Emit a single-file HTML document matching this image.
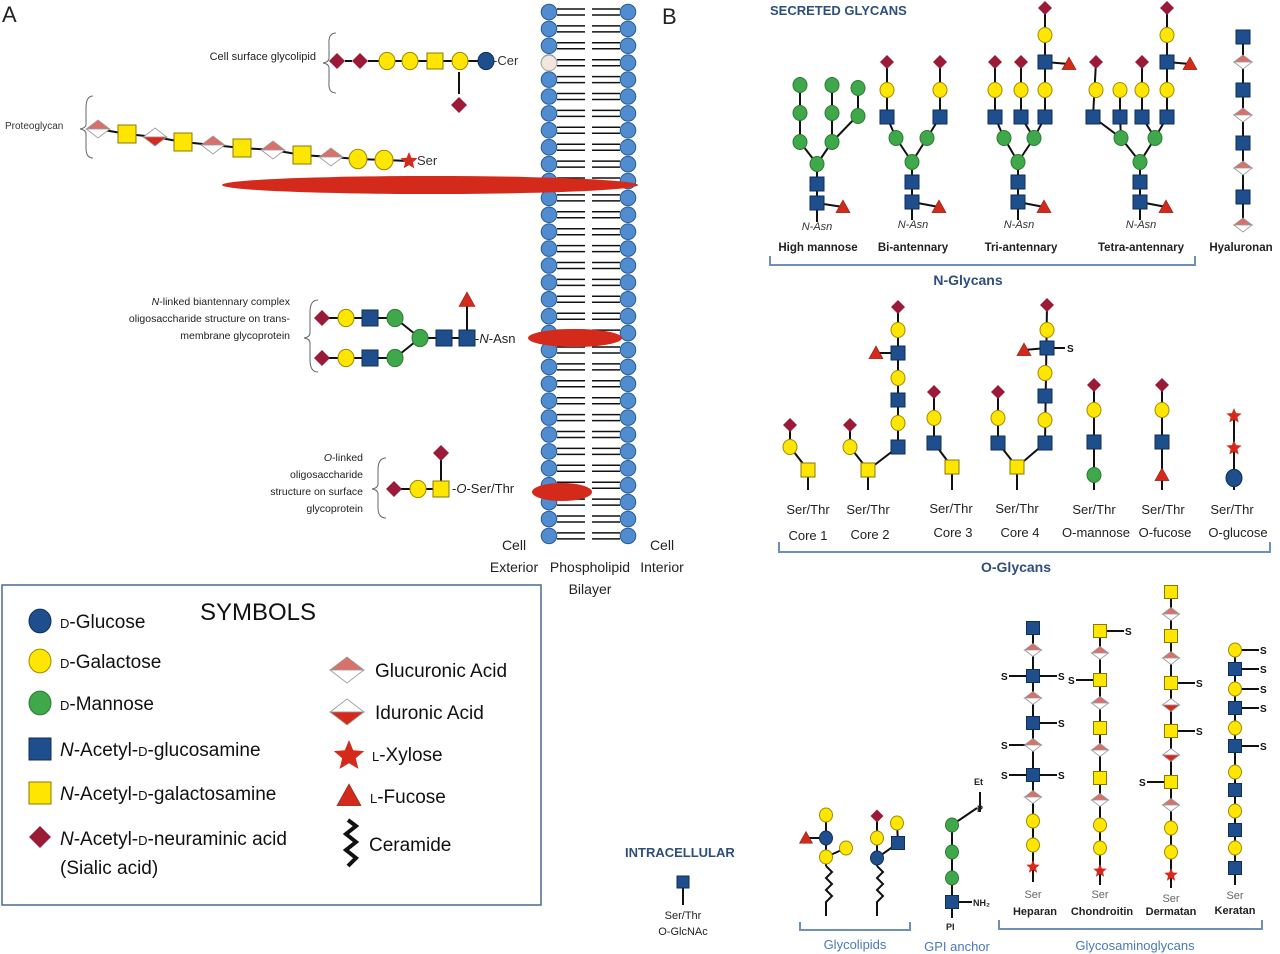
<!DOCTYPE html>
<html><head><meta charset="utf-8">
<style>
body{margin:0;background:#fff;}
svg{display:block;font-family:"Liberation Sans",sans-serif;}
.sc{font-variant:small-caps;}
</style></head>
<body>
<svg id="fig" width="1280" height="954" viewBox="0 0 1280 954" xmlns="http://www.w3.org/2000/svg">
<g id="membrane"></g>
<g id="links" stroke="#111" stroke-width="2" fill="none"></g>
<g id="syms"></g>

<text x="2" y="22" font-size="22" fill="#222">A</text>
<text x="662" y="24" font-size="22" fill="#222">B</text>

<text x="316" y="60" font-size="11" text-anchor="end" fill="#222">Cell surface glycolipid</text>
<path d="M336 33 Q328 33 329 45 L329 58 Q329 62 323 63 Q329 64 329 68 L329 82 Q328 93 336 93" stroke="#666" fill="none"/>
<text x="493" y="65" font-size="13" fill="#333">-Cer</text>
<text x="5" y="129" font-size="10" fill="#333">Proteoglycan</text>
<path d="M93 96 Q86 96 86 108 L86 124 Q86 128 80 129 Q86 130 86 134 L86 148 Q86 158 93 158" stroke="#666" fill="none"/>
<text x="417" y="165" font-size="13" fill="#333">Ser</text>

<text font-size="10.5" text-anchor="end" fill="#222"><tspan x="290" y="305"><tspan font-style="italic">N</tspan>-linked biantennary complex</tspan><tspan x="290" y="322">oligosaccharide structure on trans-</tspan><tspan x="290" y="339">membrane glycoprotein</tspan></text>
<path d="M318 300 Q310 300 310 312 L310 333 Q310 337 304 338 Q310 339 310 343 L310 360 Q310 372 318 372" stroke="#666" fill="none"/>
<text x="475" y="343" font-size="13" fill="#222">-<tspan font-style="italic">N</tspan>-Asn</text>
<text font-size="10.5" text-anchor="end" fill="#222"><tspan x="363" y="461"><tspan font-style="italic">O</tspan>-linked</tspan><tspan x="363" y="478">oligosaccharide</tspan><tspan x="363" y="495">structure on surface</tspan><tspan x="363" y="512">glycoprotein</tspan></text>
<path d="M386 458 Q378 458 378 470 L378 484 Q378 488 372 489 Q378 490 378 494 L378 508 Q378 518 386 518" stroke="#666" fill="none"/>
<text x="452" y="493" font-size="13" fill="#222">-<tspan font-style="italic">O</tspan>-Ser/Thr</text>

<g font-size="14" fill="#222" text-anchor="middle">
<text x="514" y="550">Cell</text><text x="514" y="572">Exterior</text>
<text x="590" y="572">Phospholipid</text><text x="590" y="594">Bilayer</text>
<text x="662" y="550">Cell</text><text x="662" y="572">Interior</text>
</g>

<rect x="2" y="585" width="539" height="320" fill="none" stroke="#4a6890" stroke-width="1.5"/>
<text x="200" y="620" font-size="24" fill="#111">SYMBOLS</text>
<g font-size="19" fill="#111">
<text x="60" y="628"><tspan class="sc">d</tspan>-Glucose</text>
<text x="60" y="668"><tspan class="sc">d</tspan>-Galactose</text>
<text x="60" y="710"><tspan class="sc">d</tspan>-Mannose</text>
<text x="60" y="756"><tspan font-style="italic">N</tspan>-Acetyl-<tspan class="sc">d</tspan>-glucosamine</text>
<text x="60" y="800"><tspan font-style="italic">N</tspan>-Acetyl-<tspan class="sc">d</tspan>-galactosamine</text>
<text x="60" y="845"><tspan font-style="italic">N</tspan>-Acetyl-<tspan class="sc">d</tspan>-neuraminic  acid</text>
<text x="60" y="874">(Sialic acid)</text>
<text x="375" y="677">Glucuronic Acid</text>
<text x="375" y="719">Iduronic Acid</text>
<text x="372" y="761"><tspan class="sc">l</tspan>-Xylose</text>
<text x="370" y="803"><tspan class="sc">l</tspan>-Fucose</text>
<text x="369" y="851">Ceramide</text>
</g>
<path d="M348 820 L356 826 L346 834 L356 842 L346 850 L356 858 L348 866" stroke="#111" stroke-width="4" fill="none"/>

<g fill="#2e4e7e" font-weight="bold">
<text x="770" y="15" font-size="13">SECRETED GLYCANS</text>
<text x="625" y="857" font-size="13">INTRACELLULAR</text>
</g>
<g font-size="11" font-style="italic" fill="#333" text-anchor="middle">
<text x="817" y="230">N-Asn</text><text x="913" y="228">N-Asn</text><text x="1019" y="228">N-Asn</text><text x="1141" y="228">N-Asn</text>
</g>
<g font-size="11.5" font-weight="bold" fill="#222" text-anchor="middle">
<text x="818" y="251">High mannose</text><text x="913" y="251">Bi-antennary</text><text x="1021" y="251">Tri-antennary</text><text x="1141" y="251">Tetra-antennary</text><text x="1241" y="251">Hyaluronan</text>
</g>
<path d="M770 256 V265 H1195 V256" stroke="#6d8fb8" stroke-width="2" fill="none"/>
<text x="968" y="285" font-size="14" font-weight="bold" fill="#2e4e7e" text-anchor="middle">N-Glycans</text>

<g font-size="13" fill="#222" text-anchor="middle">
<text x="808" y="514">Ser/Thr</text><text x="868" y="514">Ser/Thr</text><text x="951" y="513">Ser/Thr</text><text x="1017" y="513">Ser/Thr</text><text x="1094" y="514">Ser/Thr</text><text x="1163" y="514">Ser/Thr</text><text x="1232" y="514">Ser/Thr</text>
<text x="808" y="540">Core 1</text><text x="870" y="539">Core 2</text><text x="953" y="537">Core 3</text><text x="1020" y="537">Core 4</text><text x="1096" y="537">O-mannose</text><text x="1165" y="537">O-fucose</text><text x="1238" y="537">O-glucose</text>
</g>
<path d="M779 542 V552 H1270 V542" stroke="#6d8fb8" stroke-width="2" fill="none"/>
<text x="1016" y="572" font-size="14" font-weight="bold" fill="#2e4e7e" text-anchor="middle">O-Glycans</text>

<g font-size="11" fill="#222" text-anchor="middle">
<text x="683" y="919">Ser/Thr</text><text x="683" y="935">O-GlcNAc</text>
</g>
<g font-size="9" fill="#222" font-weight="bold">
<text x="974" y="785">Et</text><text x="977" y="812">P</text><text x="973" y="906">NH₂</text><text x="946" y="930">PI</text>
</g>
<g font-size="11" fill="#666" text-anchor="middle">
<text x="1033" y="898">Ser</text><text x="1100" y="898">Ser</text><text x="1171" y="902">Ser</text><text x="1235" y="899">Ser</text>
</g>
<g font-size="11" font-weight="bold" fill="#222" text-anchor="middle">
<text x="1035" y="915">Heparan</text><text x="1102" y="915">Chondroitin</text><text x="1171" y="915">Dermatan</text><text x="1235" y="914">Keratan</text>
</g>
<path d="M800 922 V930 H910 V922" stroke="#6d8fb8" stroke-width="2" fill="none"/>
<path d="M999 920 V929 H1262 V920" stroke="#6d8fb8" stroke-width="2" fill="none"/>
<g font-size="13" fill="#4a7ab8" text-anchor="middle">
<text x="855" y="949">Glycolipids</text><text x="957" y="951">GPI anchor</text><text x="1135" y="950">Glycosaminoglycans</text>
</g>
<g id="stext" font-size="10" fill="#111" font-weight="bold"></g>
</svg>
<script>
const NS='http://www.w3.org/2000/svg';
const mem=document.getElementById('membrane');
const L=document.getElementById('links');
const SY=document.getElementById('syms');
const ST=document.getElementById('stext');
function mk(tag,parent,attrs){const e=document.createElementNS(NS,tag);for(const k in attrs)e.setAttribute(k,attrs[k]);parent.appendChild(e);return e;}
function line(x1,y1,x2,y2){const e=mk('line',L,{x1:x1,y1:y1,x2:x2,y2:y2});

}
function chain(pts){for(let i=0;i<pts.length-1;i++)line(pts[i][0],pts[i][1],pts[i+1][0],pts[i+1][1]);}
function sText(x,y,t){const e=mk('text',ST,{x:x,y:y+4});e.textContent=t;

}
const NAMES={G:'glucose',Y:'galactose',M:'mannose',B:'n-acetylglucosamine',Q:'n-acetylgalactosamine',D:'sialic-acid',U:'glucuronic-acid',I:'iduronic-acid',S:'xylose',T:'fucose'};
const RED='#d42a1c',PINK='#d9706a';
function sym(t,x,y,s){
 const g=mk('g',SY,{});
 
 
 if(t=='G'||t=='Y'||t=='M'){const c={G:['#1f4e8c','#0e2f5a'],Y:['#ffe600','#a08a00'],M:['#3fa84a','#2d7a35']}[t];
  mk('ellipse',g,{cx:x,cy:y,rx:s,ry:s*1.08,fill:c[0],stroke:c[1],'stroke-width':1});}
 else if(t=='B'||t=='Q'){const c=t=='B'?['#1f4e8c','#0e2f5a']:['#ffe600','#8a7800'];
  mk('rect',g,{x:x-s,y:y-s,width:2*s,height:2*s,fill:c[0],stroke:c[1],'stroke-width':1});}
 else if(t=='D'){mk('polygon',g,{points:`${x},${y-s} ${x+s},${y} ${x},${y+s} ${x-s},${y}`,fill:'#9b1a38'});}
 else if(t=='U'||t=='I'){const w=s*1.3;
  mk('polygon',g,{points:`${x-w},${y} ${x},${y-s} ${x+w},${y}`,fill:t=='U'?PINK:'#fff',stroke:'#999','stroke-width':0.8});
  mk('polygon',g,{points:`${x-w},${y} ${x},${y+s} ${x+w},${y}`,fill:t=='U'?'#fff':RED,stroke:'#999','stroke-width':0.8});}
 else if(t=='S'){let p=[];for(let i=0;i<10;i++){const r=i%2?s*0.45:s,a=-Math.PI/2+i*Math.PI/5;p.push((x+r*Math.cos(a)).toFixed(1)+','+(y+r*Math.sin(a)).toFixed(1));}
  mk('polygon',g,{points:p.join(' '),fill:RED});}
 else if(t=='T'){mk('polygon',g,{points:`${x},${y-s} ${x+s},${y+s*0.8} ${x-s},${y+s*0.8}`,fill:RED,stroke:'#8a1a10','stroke-width':0.6});}
}
function draw(list,s){list.forEach(p=>sym(p[0],p[1],p[2],s));}

// membrane
for(let i=0;i<32;i++){const y=12+i*16.9;
 for(const dy of [-3,3]){mk('line',mem,{x1:557,y1:y+dy,x2:585,y2:y+dy,stroke:'#111','stroke-width':1.5});mk('line',mem,{x1:592,y1:y+dy,x2:620,y2:y+dy,stroke:'#111','stroke-width':1.5});}
 const a=mk('circle',mem,{cx:549,cy:y,r:7.8,fill:'#4f8cd0',stroke:'#2a5a90'});
 
 
 const b=mk('circle',mem,{cx:628,cy:y,r:7.8,fill:'#4f8cd0',stroke:'#2a5a90'});
 
 
}
const pale=mk('circle',mem,{cx:549,cy:63,r:7.8,fill:'#f3e6dc',stroke:'#aaa'});


[[430,185,208,9],[575,338,47,9],[562,492,30,9]].forEach(e=>{const el=mk('ellipse',mem,{cx:e[0],cy:e[1],rx:e[2],ry:e[3],fill:'#d42a1c'});

});

// Panel A
const gl=[['D',337,61],['D',360,61],['Y',387,61],['Y',410,61],['Q',435,61],['Y',460,61],['G',486,61]];
for(let i=0;i<gl.length-1;i++)line(gl[i][0]=='x'?0:gl[i][1]+8,61,gl[i+1][1]-8,61);
line(459,72,459,94);
draw(gl,8);sym('D',459,105,8);
const pg=[['U',98,129],['Q',127,134],['I',155,137],['Q',183,142],['U',213,145],['Q',242,148],['U',273,150],['Q',302,155],['U',331,157],['Y',358,159],['Y',384,160],['S',409,161]];
chain(pg.map(p=>[p[1],p[2]]));draw(pg,9);
const nl=[['D',322,318],['Y',346,318],['B',370,318],['M',395,318],['D',322,358],['Y',346,358],['B',370,358],['M',395,358],['M',420,338],['B',444,338],['B',467,338]];
chain([[322,318],[395,318],[420,338],[467,338]]);chain([[322,358],[395,358],[420,338]]);line(467,338,467,305);
draw(nl,8);sym('T',467,300,8);
chain([[394,489],[441,489]]);line(441,489,441,453);
draw([['D',394,489],['Y',418,489],['Q',441,489],['D',441,453]],8);

// Legend
draw([['G',40,621],['Y',40,661],['M',40,703],['B',40,749],['Q',40,793],['D',40,837]],11);
sym('U',347,670,13);sym('I',347,712,13);sym('S',349,756,16);sym('T',349,796,12);

// N-glycans
chain([[800,85],[800,142],[817,164],[817,203],[817,222]]);chain([[832,85],[832,142],[817,164]]);chain([[858,88],[858,115],[832,142]]);line(817,203,843,207);
draw([['M',800,85],['M',832,85],['M',858,88],['M',800,113],['M',832,113],['M',858,116],['M',800,142],['M',832,142],['M',817,164],['B',817,184],['B',817,203],['T',843,207]],7);
chain([[887,62],[887,117],[896,138],[912,162],[912,220]]);chain([[940,62],[940,117],[927,138],[912,162]]);line(912,202,939,207);
draw([['D',887,62],['D',940,62],['Y',887,90],['Y',940,90],['B',887,117],['B',940,117],['M',896,138],['M',927,138],['M',912,162],['B',912,182],['B',912,202],['T',939,207]],7);
chain([[995,62],[995,117],[1004,138],[1018,162],[1018,220]]);chain([[1021,62],[1021,117],[1034,138],[1018,162]]);chain([[1045,8],[1045,117],[1034,138]]);line(1045,62,1069,64);line(1018,202,1044,207);
draw([['D',995,62],['D',1021,62],['D',1045,8],['Y',995,90],['Y',1021,90],['Y',1045,35],['B',1045,62],['T',1069,64],['Y',1045,90],['B',995,117],['B',1021,117],['B',1045,117],['M',1004,138],['M',1034,138],['M',1018,162],['B',1018,182],['B',1018,202],['T',1044,207]],7);
chain([[1096,62],[1093,117],[1121,138],[1140,162],[1140,220]]);chain([[1120,90],[1120,117],[1121,138]]);chain([[1142,62],[1142,117],[1155,138],[1140,162]]);chain([[1167,8],[1167,117],[1155,138]]);line(1167,62,1190,64);line(1140,202,1166,207);
draw([['D',1096,62],['D',1142,62],['D',1167,8],['Y',1096,90],['Y',1120,90],['Y',1142,90],['Y',1167,35],['B',1167,62],['T',1190,64],['Y',1167,90],['B',1093,117],['B',1120,117],['B',1142,117],['B',1167,117],['M',1121,138],['M',1155,138],['M',1140,162],['B',1140,182],['B',1140,202],['T',1166,207]],7);
line(1243,37,1243,225);
draw([['B',1243,37],['U',1243,62],['B',1243,90],['U',1243,115],['B',1243,143],['U',1243,168],['B',1243,197],['U',1243,225]],7);

// O-glycans
chain([[790,425],[790,447],[808,470],[808,490]]);
draw([['Q',808,470],['Y',790,447],['D',790,425]],7);
chain([[850,425],[850,447],[868,470],[868,490]]);chain([[868,470],[898,447],[898,307]]);line(898,353,876,353);
draw([['Q',868,470],['Y',850,447],['D',850,425],['B',898,447],['Y',898,423],['B',898,400],['Y',898,378],['B',898,353],['T',876,353],['Y',898,330],['D',898,307]],7);
chain([[934,392],[934,443],[952,467],[952,490]]);
draw([['D',934,392],['Y',934,418],['B',934,443],['Q',952,467]],7);
chain([[998,392],[998,443],[1017,467],[1017,490]]);chain([[1017,467],[1045,443],[1047,305]]);line(1047,348,1024,350);line(1047,348,1065,348);sText(1067,348,'S');
draw([['D',998,392],['Y',998,418],['B',998,443],['Q',1017,467],['B',1045,443],['Y',1045,420],['B',1045,396],['Y',1045,373],['B',1047,348],['T',1024,350],['Y',1047,330],['D',1047,305]],7);
line(1094,385,1094,490);draw([['D',1094,385],['Y',1094,410],['B',1094,442],['M',1094,475]],7);
line(1162,385,1162,490);draw([['D',1162,385],['Y',1162,410],['B',1162,442],['T',1162,475]],7);
line(1234,416,1234,490);draw([['S',1234,416],['S',1234,448],['G',1234,478]],8);

// intracellular
line(683,882,683,905);sym('B',683,882,6);

// glycolipids
L.insertAdjacentHTML('beforeend','<path d="M826 866 l6 6 -6 6 6 6 -6 6 6 6 -6 6 v14 M877 866 l6 6 -6 6 6 6 -6 6 6 6 -6 6 v14"/>');
chain([[826,815],[826,866]]);line(826,838,806,838);line(826,857,846,848);
draw([['Y',826,815],['G',826,838],['T',806,838],['Y',826,857],['Y',846,848]],6.5);
chain([[877,816],[877,866]]);chain([[877,858],[898,843],[897,823]]);
draw([['D',877,816],['Y',877,838],['Y',897,823],['B',898,843],['G',877,858]],6.5);
// GPI
chain([[952,825],[952,918]]);chain([[952,825],[977,808]]);line(980,812,980,792);line(952,902,972,902);
draw([['M',952,825],['M',952,852],['M',952,878],['B',952,902]],6.5);

// GAGs
const hep=[['B',628],['U',650],['B',676],['U',698],['B',723],['U',745],['B',775],['U',797],['Y',821],['Y',845],['S',867]];
const chon=[['Q',631],['U',653],['Q',680],['U',703],['Q',728],['U',750],['Q',778],['U',800],['Y',825],['Y',848],['S',871]];
const derm=[['Q',592],['U',614],['Q',636],['U',658],['Q',683],['I',705],['Q',731],['I',755],['Q',782],['U',805],['Y',828],['Y',852],['S',875]];
const kera=[['Y',650],['B',669],['Y',689],['B',708],['Y',728],['B',746],['Y',772],['B',790],['Y',811],['B',830],['Y',848],['B',868]];
function gag(x,arr,end){line(x,arr[0][1],x,end);arr.forEach(p=>sym(p[0],x,p[1],p[0]=='S'?7:6.5));}
const sulf=[[1033,676,-1],[1033,676,1],[1033,723,1],[1033,745,-1],[1033,775,-1],[1033,775,1],[1100,631,1],[1100,680,-1],[1171,683,1],[1171,731,1],[1171,782,-1],[1235,650,1],[1235,669,1],[1235,689,1],[1235,708,1],[1235,746,1]];
sulf.forEach(s=>{const x2=s[0]+s[2]*24;line(s[0],s[1],x2,s[1]);sText(s[2]>0?x2+1:x2-8,s[1],'S');});
gag(1033,hep,882);gag(1100,chon,885);gag(1171,derm,888);gag(1235,kera,885);
</script>
</body></html>
